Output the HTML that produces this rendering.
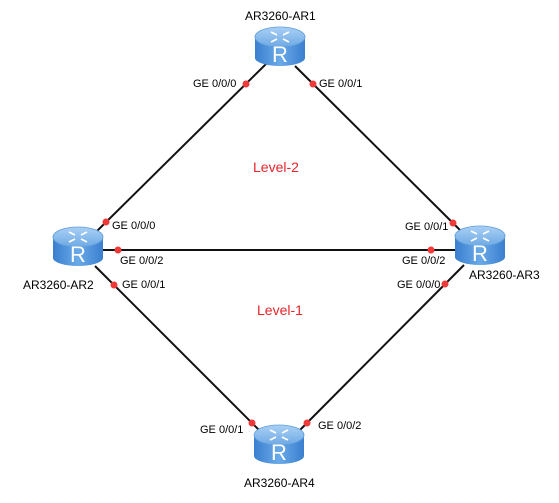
<!DOCTYPE html>
<html><head><meta charset="utf-8"><style>
body{margin:0;background:#fff;}
svg{display:block;font-family:"Liberation Sans",Arial,sans-serif;}
</style></head><body>
<svg width="559" height="503" viewBox="0 0 559 503" xmlns="http://www.w3.org/2000/svg">
<defs>
<linearGradient id="bd" x1="0" x2="1" y1="0" y2="0">
<stop offset="0" stop-color="#3a7fcf"/><stop offset="0.5" stop-color="#6aaae8"/><stop offset="1" stop-color="#3a7fcf"/>
</linearGradient>
<linearGradient id="tp" x1="0" x2="0" y1="0" y2="1">
<stop offset="0" stop-color="#a9d0f5"/><stop offset="1" stop-color="#6ea9e4"/>
</linearGradient>
<g id="r">
<path d="M0,10 L0,31 A25,8 0 0 0 50,31 L50,10 Z" fill="url(#bd)"/>
<ellipse cx="25" cy="10" rx="25" ry="10" fill="url(#tp)" stroke="#5f9ddc" stroke-width="0.8"/>
<g stroke="#fff" stroke-width="1.8" fill="none">
<path d="M16,5 l6,3 M34,5 l-6,3 M16,15 l6,-3 M34,15 l-6,-3"/>
</g>
<text x="25" y="35" font-size="22" fill="#fff" text-anchor="middle">R</text>
</g>
</defs>
<g stroke="#111" stroke-width="2">
<line x1="266" y1="64" x2="96" y2="232"/>
<line x1="295" y1="66" x2="465" y2="235"/>
<line x1="100" y1="250" x2="458" y2="250"/>
<line x1="95" y1="266" x2="265" y2="436"/>
<line x1="464" y1="265" x2="295" y2="435"/>
</g>
<use href="#r" x="255" y="27"/>
<use href="#r" x="53" y="227"/>
<use href="#r" x="455" y="226"/>
<use href="#r" x="254" y="425"/>
<g fill="#f03a3a">
<circle cx="246" cy="84" r="3.5"/><circle cx="313" cy="84" r="3.5"/>
<circle cx="106" cy="222" r="3.5"/><circle cx="118" cy="250" r="3.5"/><circle cx="114" cy="285" r="3.5"/>
<circle cx="453" cy="223" r="3.5"/><circle cx="431" cy="250" r="3.5"/><circle cx="445" cy="284" r="3.5"/>
<circle cx="252" cy="423" r="3.5"/><circle cx="307" cy="423" r="3.5"/>
</g>
<g font-size="11" fill="#000">
<text x="193" y="87">GE 0/0/0</text>
<text x="319" y="87">GE 0/0/1</text>
<text x="112" y="229">GE 0/0/0</text>
<text x="120" y="264">GE 0/0/2</text>
<text x="122" y="288">GE 0/0/1</text>
<text x="405" y="230">GE 0/0/1</text>
<text x="402" y="264">GE 0/0/2</text>
<text x="397" y="288">GE 0/0/0</text>
<text x="200" y="433">GE 0/0/1</text>
<text x="318" y="429">GE 0/0/2</text>
</g>
<g font-size="12" fill="#000">
<text x="245" y="20">AR3260-AR1</text>
<text x="23" y="289">AR3260-AR2</text>
<text x="469" y="279">AR3260-AR3</text>
<text x="244" y="487">AR3260-AR4</text>
</g>
<g font-size="14" fill="#e8252a">
<text x="253" y="172">Level-2</text>
<text x="257" y="315">Level-1</text>
</g>
</svg>
</body></html>
